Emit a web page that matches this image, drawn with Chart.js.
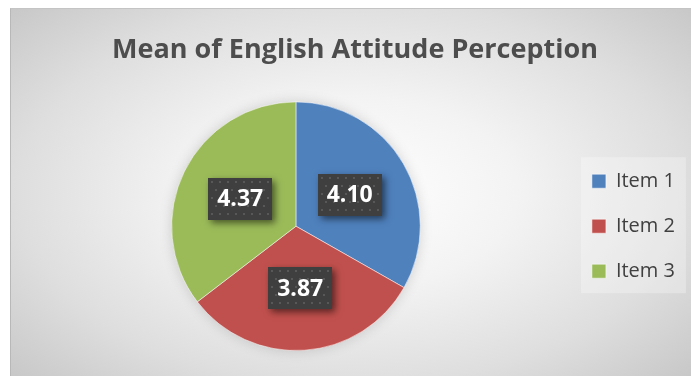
<!DOCTYPE html>
<html>
<head>
<meta charset="utf-8">
<script src="https://cdn.jsdelivr.net/npm/chart.js@4/dist/chart.umd.min.js"></script>
<style>
  html, body { margin: 0; padding: 0; background: #ffffff; width: 691px; height: 376px; overflow: hidden; }
  #frame {
    position: absolute; left: 10px; top: 8px; width: 681px; height: 368px;
    box-sizing: border-box;
    border-left: 1px solid #b8b8b8; border-top: 1px solid #c4c4c4;
    background: radial-gradient(ellipse 70% 75% at 50% 50%, #ffffff 0%, #f3f3f3 35%, #dedede 70%, #c6c6c6 100%);
  }
  #wrap { position: absolute; left: 0; top: 0; width: 680px; height: 367px; }
</style>
</head>
<body>
<div id="frame"><div id="wrap"><canvas id="c" width="680" height="367"></canvas></div></div>
<script>
const categories = ['Item 1', 'Item 2', 'Item 3'];
const meanValues = [4.10, 3.87, 4.37];
const valueLabels = ['4.10', '3.87', '4.37'];
const sliceColors = ['#4F81BD', '#C0504D', '#9BBB59'];
const chartTitle = 'Mean of English Attitude Perception';

const pieShadow = {
  id: 'pieShadow',
  beforeDatasetsDraw(chart) {
    const arc = chart.getDatasetMeta(0).data[0];
    if (!arc) return;
    const ctx = chart.ctx;
    ctx.save();
    ctx.shadowColor = 'rgba(0,0,0,0.18)';
    ctx.shadowBlur = 14;
    ctx.beginPath();
    ctx.arc(arc.x, arc.y, arc.outerRadius - 1, 0, Math.PI * 2);
    ctx.fillStyle = '#ffffff';
    ctx.fill();
    ctx.restore();
  }
};

const legendPanel = {
  id: 'legendPanel',
  beforeDraw(chart) {
    const lg = chart.legend;
    if (!lg || !lg.legendHitBoxes || !lg.legendHitBoxes.length) return;
    const hb = lg.legendHitBoxes;
    const first = hb[0], last = hb[hb.length - 1];
    const ctx = chart.ctx;
    ctx.save();
    ctx.fillStyle = 'rgba(255,255,255,0.28)';
    const x0 = first.left - 11;
    const y0 = first.top - 14;
    const y1 = last.top + last.height + 12;
    ctx.fillRect(x0, y0, 105, y1 - y0);
    ctx.restore();
  }
};

const valueBoxes = {
  id: 'valueBoxes',
  afterDatasetsDraw(chart) {
    const ctx = chart.ctx;
    const meta = chart.getDatasetMeta(0);
    const w = 64, h = 42;
    meta.data.forEach((arc, i) => {
      const p = arc.tooltipPosition();
      const x = Math.round(p.x - w / 2), y = Math.round(p.y - h / 2);
      ctx.save();
      ctx.shadowColor = 'rgba(0,0,0,0.55)';
      ctx.shadowBlur = 7;
      ctx.shadowOffsetX = 3;
      ctx.shadowOffsetY = 3;
      ctx.fillStyle = '#3f3f3f';
      ctx.fillRect(x, y, w, h);
      ctx.restore();
      ctx.save();
      ctx.fillStyle = 'rgba(120,120,120,0.45)';
      for (let yy = y + 3; yy < y + h - 1; yy += 8) {
        for (let xx = x + 3 + ((Math.round((yy - y) / 8) % 2) ? 4 : 0); xx < x + w - 1; xx += 8) {
          ctx.fillRect(xx, yy, 2, 2);
        }
      }
      ctx.fillStyle = '#ffffff';
      ctx.font = 'bold 23px "Open Sans"';
      ctx.textAlign = 'center';
      ctx.textBaseline = 'middle';
      ctx.fillText(valueLabels[i], p.x, p.y + 1);
      ctx.restore();
    });
  }
};

new Chart(document.getElementById('c'), {
  type: 'pie',
  data: {
    labels: categories,
    datasets: [{
      data: meanValues,
      backgroundColor: sliceColors,
      borderColor: 'rgba(255,255,255,0.5)',
      borderWidth: 1
    }]
  },
  options: {
    responsive: false,
    animation: false,
    layout: { padding: { left: 14, right: 6, top: 0, bottom: 25 } },
    plugins: {
      tooltip: { enabled: false },
      title: {
        display: true,
        text: chartTitle,
        color: '#4d4d4d',
        font: { family: '"Open Sans"', weight: 'bold', size: 27, lineHeight: 1.2 },
        padding: { top: 25, bottom: 35 }
      },
      legend: {
        position: 'right',
        fullSize: false,
        align: 'center',
        labels: {
          boxWidth: 14,
          boxHeight: 14,
          padding: 25,
          color: '#404040',
          font: { family: '"Open Sans"', size: 20 }
        }
      }
    }
  },
  plugins: [pieShadow, legendPanel, valueBoxes]
});
</script>
</body>
</html>
